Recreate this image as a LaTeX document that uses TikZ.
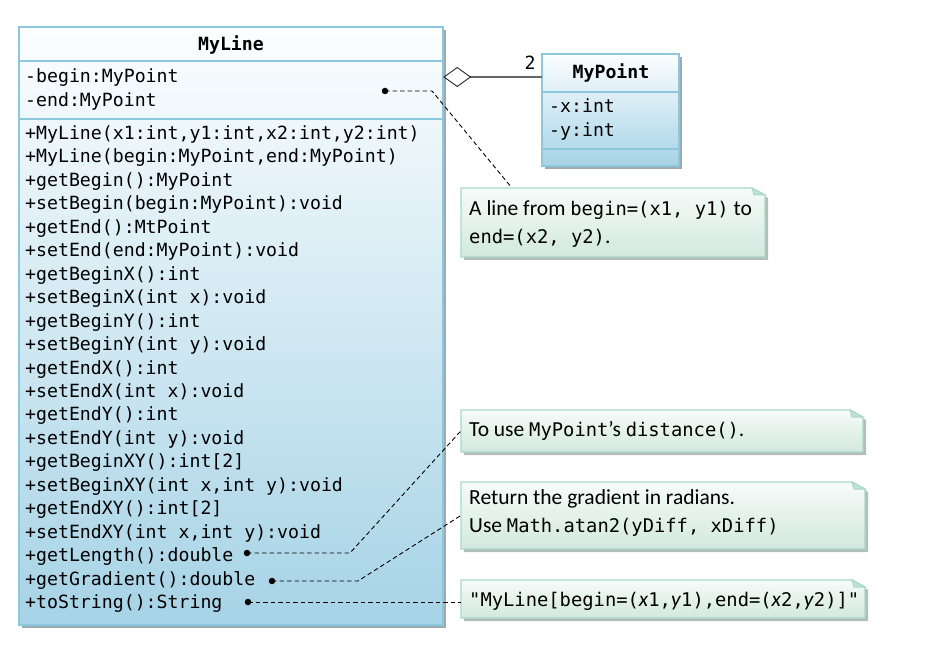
\documentclass[tikz,border=0pt]{standalone}
\usepackage{fontspec}
\setmainfont{Carlito}
\newfontfamily\monof{DejaVu Sans Mono}
\usetikzlibrary{fit,calc,arrows.meta}
\definecolor{boxborder}{HTML}{8CC8DD}
\definecolor{boxbot}{HTML}{A6D3E6}
\definecolor{boxtop}{HTML}{FCFEFF}
\definecolor{notetop}{HTML}{F6FBF9}
\definecolor{notebot}{HTML}{D2E9DE}
\definecolor{noteborder}{HTML}{A9D8C8}
\definecolor{notefold}{HTML}{BFE2D6}
\definecolor{shadowc}{HTML}{9EAAB0}
\definecolor{nshadowc}{HTML}{B4BCBC}
\newcommand\notemono[1]{{\monof\fontsize{18.8}{25}\selectfont #1}}
\newcommand\drawnote[5]{%
  \fill[nshadowc] (#2+3,#3+3) -- (#4-13+3,#3+3) -- (#4+3,#3+7+3) -- (#4+3,#5+3) -- (#2+3,#5+3) -- cycle;
  \path[top color=notetop, bottom color=notebot, draw=noteborder, line width=1.3pt]
    (#2,#3) -- (#4-13,#3) -- (#4,#3+7) -- (#4,#5) -- (#2,#5) -- cycle;
  \filldraw[fill=notefold, draw=noteborder, line width=1pt] (#4-13,#3) -- (#4,#3+7) -- (#4-11,#3+7) -- cycle;
  \node[fit={(#2,#3)(#4,#5)}, inner sep=0pt] (#1) {};
}
\begin{document}
\begin{tikzpicture}[x=1pt,y=-1pt,
  mono/.style={font=\monof\fontsize{18.2}{22}\selectfont, inner sep=0pt},
  monob/.style={font=\monof\bfseries\fontsize{18.2}{22}\selectfont, inner sep=0pt},
  notetext/.style={font=\fontsize{21.5}{25}\selectfont, inner sep=0pt, anchor=base west},
  dotn/.style={circle, fill=black, inner sep=0pt, minimum size=6.5pt},
  dline/.style={draw=black, line width=0.9pt, dash pattern=on 4.5pt off 3pt},
  classline/.style={draw=boxborder, line width=1.6pt}]
\useasboundingbox (0,0) rectangle (943,647);

% ---------- MyLine class ----------
\fill[shadowc] (22,30) rectangle (446,628);
\path[top color=boxtop, bottom color=boxbot] (19,27) rectangle (443,625);
\draw[classline] (19,27) rectangle (443,625);
\draw[classline] (19,61) -- (443,61);
\draw[classline] (19,119) -- (443,119);
\node[fit={(19,27)(443,625)}, inner sep=0pt] (myline) {};
\node[monob, anchor=base] (mylinetitle) at (231,51) {MyLine};
\node[mono, anchor=base west] (attrb) at (25,83) {-begin:MyPoint};
\node[mono, anchor=base west] (attre) at (25,107) {-end:MyPoint};
\foreach \t [count=\i from 0] in {
  {+MyLine(x1:int,y1:int,x2:int,y2:int)},
  {+MyLine(begin:MyPoint,end:MyPoint)},
  {+getBegin():MyPoint},
  {+setBegin(begin:MyPoint):void},
  {+getEnd():MtPoint},
  {+setEnd(end:MyPoint):void},
  {+getBeginX():int},
  {+setBeginX(int x):void},
  {+getBeginY():int},
  {+setBeginY(int y):void},
  {+getEndX():int},
  {+setEndX(int x):void},
  {+getEndY():int},
  {+setEndY(int y):void},
  {+getBeginXY():int[2]},
  {+setBeginXY(int x,int y):void},
  {+getEndXY():int[2]},
  {+setEndXY(int x,int y):void},
  {+getLength():double},
  {+getGradient():double},
  {+toString():String}}
  \node[mono, anchor=base west] (m\i) at (25,{139.5+23.45*\i}) {\t};

% ---------- MyPoint class ----------
\fill[shadowc] (545,57) rectangle (682,169);
\path[top color=boxtop, bottom color=boxbot] (542,54) rectangle (679,166);
\draw[classline] (542,54) rectangle (679,166);
\draw[classline] (542,92) -- (679,92);
\draw[classline] (542,149) -- (679,149);
\node[fit={(542,54)(679,166)}, inner sep=0pt] (mypoint) {};
\node[monob, anchor=base] (mypointtitle) at (611,79) {MyPoint};
\node[mono, anchor=base west] (px) at (549,113) {-x:int};
\node[mono, anchor=base west] (py) at (549,137) {-y:int};

% aggregation
\coordinate (aggA) at (mypoint.west |- 0,77);
\coordinate (aggB) at (myline.east |- 0,77);
\draw[draw=black!60, line width=1.5pt,
  -{Diamond[open, length=28pt, width=20pt, line width=0.9pt, color=black!85]}] (aggA) -- (aggB);
\node[mono, anchor=center] (mult) at (530,63) {2};

% ---------- notes ----------
\drawnote{note1}{461}{188}{765}{257}
\drawnote{note2}{461}{410}{863}{452}
\drawnote{note3}{461}{482}{865}{549}
\drawnote{note4}{461}{580}{865}{618}

\node[notetext] (t1a) at (469,216) {A line from \notemono{begin=(x1, y1)} to};
\node[notetext] (t1b) at (469,244) {\notemono{end=(x2, y2)}.};
\node[notetext] (t2) at (469,436) {To use \notemono{MyPoint}’s \notemono{distance()}.};
\node[notetext] (t3a) at (469,504) {Return the gradient in radians.};
\node[notetext] (t3b) at (469,532) {Use \notemono{Math.atan2(yDiff, xDiff)}};
\node[notetext] (t4) at (469,606) {\notemono{"MyLine[begin=(}\textit{x}\notemono{1,}\textit{y}\notemono{1),end=(}\textit{x}\notemono{2,}\textit{y}\notemono{2)]"}};

% ---------- connectors ----------
\node[dotn] (d0) at (385,91) {};
\node[dotn] (dL) at (247,553) {};
\node[dotn] (dG) at (272,581) {};
\node[dotn] (dS) at (248,602) {};
\coordinate (b0) at (432,91);
\coordinate (e0) at ($(note1.north west)+(51,0)$);
\coordinate (bL) at (350,553);
\coordinate (bG) at (358,581);
\draw[dline] (d0.center) -- (b0) -- (e0);
\draw[dline] (dL.center) -- (bL) -- (note2.west);
\draw[dline] (dG.center) -- (bG) -- (note3.west);
\draw[dline] (dS.center) -- (dS.center -| note4.west);
\end{tikzpicture}
\end{document}
